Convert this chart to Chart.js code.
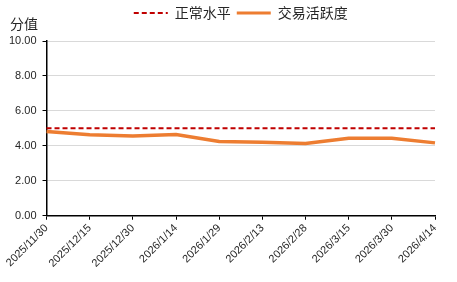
<!DOCTYPE html>
<html lang="zh">
<head>
  <meta charset="UTF-8">
  <title>交易活跃度</title>
  <script src="https://cdn.jsdelivr.net/npm/chart.js"></script>
  <style>
    html, body { margin: 0; padding: 0; background: #fff; }
    #wrap { width: 457px; height: 282px; }
  </style>
</head>
<body>
  <div id="wrap"><canvas id="grafico"></canvas></div>
  <script>
    const fechas = ['2025/11/30', '2025/12/15', '2025/12/30', '2026/1/14', '2026/1/29',
                    '2026/2/13', '2026/2/28', '2026/3/15', '2026/3/30', '2026/4/14'];
    const nivelNormal = [5, 5, 5, 5, 5, 5, 5, 5, 5, 5];
    const actividad = [4.82, 4.63, 4.57, 4.65, 4.25, 4.21, 4.13, 4.44, 4.44, 4.17];

    const fuenteCJK = '"Noto Sans CJK SC", "Noto Sans", sans-serif';
    const fuenteNum = '"Liberation Sans", "Open Sans", sans-serif';

    // texto "分值" arriba a la izquierda
    const tituloEje = {
      id: 'tituloEje',
      afterDraw(chart) {
        const ctx = chart.ctx;
        ctx.save();
        ctx.font = '14px ' + fuenteCJK;
        ctx.fillStyle = '#262626';
        ctx.textBaseline = 'middle';
        ctx.fillText('分值', 10, 24);
        ctx.restore();
      }
    };

    // espacio extra debajo de la leyenda
    const espacioLeyenda = {
      id: 'espacioLeyenda',
      beforeInit(chart) {
        const fitOriginal = chart.legend.fit;
        chart.legend.fit = function () {
          fitOriginal.bind(this)();
          this.height += 11;
        };
      }
    };

    new Chart(document.getElementById('grafico'), {
      type: 'line',
      data: {
        labels: fechas,
        datasets: [
          {
            label: '正常水平',
            data: nivelNormal,
            borderColor: '#C00000',
            backgroundColor: '#C00000',
            borderWidth: 2,
            borderDash: [5, 3],
            pointRadius: 0
          },
          {
            label: '交易活跃度',
            data: actividad,
            borderColor: '#ED7D31',
            backgroundColor: '#ED7D31',
            borderWidth: 3.5,
            pointRadius: 0,
            tension: 0
          }
        ]
      },
      options: {
        responsive: true,
        maintainAspectRatio: false,
        animation: false,
        layout: { padding: { left: 3, right: 22, top: 0, bottom: 10 } },
        plugins: {
          legend: {
            position: 'top',
            fullSize: false,
            labels: {
              usePointStyle: true,
              pointStyleWidth: 34,
              padding: 6,
              color: '#262626',
              font: { family: fuenteCJK, size: 14 },
              generateLabels(chart) {
                return chart.data.datasets.map((ds, i) => ({
                  text: ds.label,
                  datasetIndex: i,
                  pointStyle: 'line',
                  strokeStyle: ds.borderColor,
                  fillStyle: ds.borderColor,
                  lineWidth: i === 0 ? 2 : 3,
                  lineDash: ds.borderDash || [],
                  fontColor: '#262626'
                }));
              }
            }
          },
          tooltip: { enabled: false }
        },
        scales: {
          x: {
            border: { display: true, color: '#000', width: 1.5 },
            grid: { drawOnChartArea: false, tickColor: '#000', tickLength: 4 },
            ticks: {
              minRotation: 45, maxRotation: 45,
              color: '#262626', padding: 2,
              font: { family: fuenteNum, size: 11 }
            }
          },
          y: {
            min: 0, max: 10,
            border: { display: true, color: '#000', width: 1.5 },
            grid: { color: '#d9d9d9', tickColor: '#000', tickLength: 4 },
            ticks: {
              stepSize: 2,
              color: '#262626', padding: 6,
              font: { family: fuenteNum, size: 11 },
              callback: v => v.toFixed(2)
            }
          }
        }
      },
      plugins: [tituloEje, espacioLeyenda]
    });
  </script>
</body>
</html>
